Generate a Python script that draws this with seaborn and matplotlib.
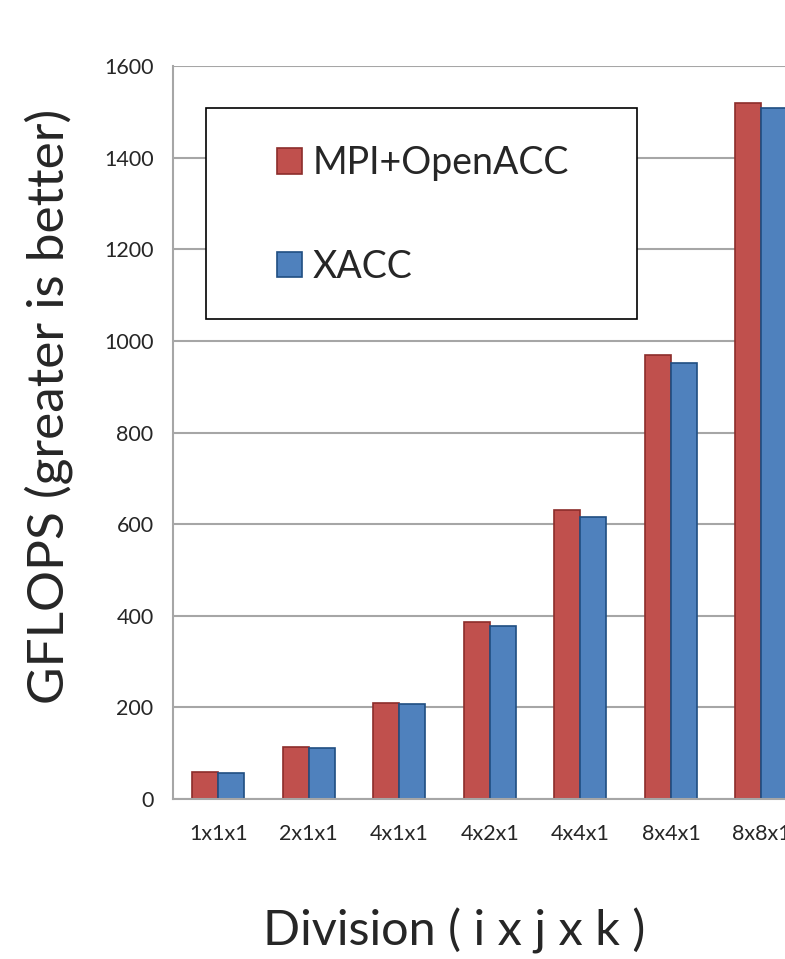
import pandas as pd
import matplotlib.pyplot as plt
import seaborn as sns
from matplotlib.patches import Rectangle

# values
divisions = ['1x1x1', '2x1x1', '4x1x1', '4x2x1', '4x4x1', '8x4x1', '8x8x1']
mpi_openacc = [58, 114, 210, 387, 631, 969, 1519]
xacc = [57, 111, 207, 378, 616, 952, 1508]
series = ['MPI+OpenACC', 'XACC']

df = pd.DataFrame({
    'division': divisions * 2,
    'gflops': mpi_openacc + xacc,
    'impl': [series[0]] * len(divisions) + [series[1]] * len(divisions),
})

sns.set_style('white')
plt.rcParams['font.family'] = ['Lato', 'DejaVu Sans']

fig = plt.figure(figsize=(7.85, 9.59), dpi=100)
ax = fig.add_axes([0.2204, 0.1668, 0.7796, 0.7643])

colors = {'MPI+OpenACC': '#C0504D', 'XACC': '#4F81BD'}
edges = {'MPI+OpenACC': '#8C2D2B', 'XACC': '#1F4E82'}

sns.barplot(data=df, x='division', y='gflops', hue='impl', hue_order=series,
            palette=colors, width=0.575, gap=0, saturation=1, ax=ax, legend=False)

for bars, name in zip(ax.containers, series):
    for b in bars:
        b.set_edgecolor(edges[name])
        b.set_linewidth(1.2)

ax.set_yticks(range(0, 1601, 200))
ax.yaxis.grid(True, color='#A6A6A6', linewidth=1.5)
ax.set_axisbelow(True)

# ticks between categories, labels at centres
ax.set_xticks([i - 0.5 for i in range(len(divisions) + 1)], minor=True)
ax.tick_params(axis='x', which='major', length=0, pad=18, labelsize=15.5)
ax.tick_params(axis='x', which='minor', length=8, width=1.5, color='#A6A6A6')
ax.tick_params(axis='y', length=6, width=1.5, color='#A6A6A6', labelsize=15.5, pad=8)

# the chart is cut off at the right edge of the picture
ax.set_ylim(0, 1600)
ax.set_xlim(-0.5, 6.26)

for s in ['top', 'right']:
    ax.spines[s].set_visible(False)
for s in ['left', 'bottom']:
    ax.spines[s].set_color('#A6A6A6')
    ax.spines[s].set_linewidth(1.5)

ax.set_xlabel('Division ( i x j x k )', fontsize=35, labelpad=46)
ax.set_ylabel('GFLOPS (greater is better)', fontsize=37, labelpad=22)
ax.xaxis.label.set_x(0.459)
ax.yaxis.label.set_y(0.536)

# legend box
ax.add_patch(Rectangle((0.054, 0.655), 0.704, 0.288, transform=ax.transAxes,
                       facecolor='white', edgecolor='black', linewidth=1.2, zorder=5))
handles = [Rectangle((0, 0), 1, 1, facecolor=colors[n], edgecolor=edges[n], linewidth=1.2)
           for n in series]
leg = ax.legend(handles, series, loc='upper left', bbox_to_anchor=(0.17, 0.892),
                frameon=False, fontsize=27, handlelength=0.67, handleheight=0.67,
                handletextpad=0.27, labelspacing=1.8, borderpad=0, borderaxespad=0)
leg.set_zorder(6)

plt.savefig('out.png', dpi=100)
